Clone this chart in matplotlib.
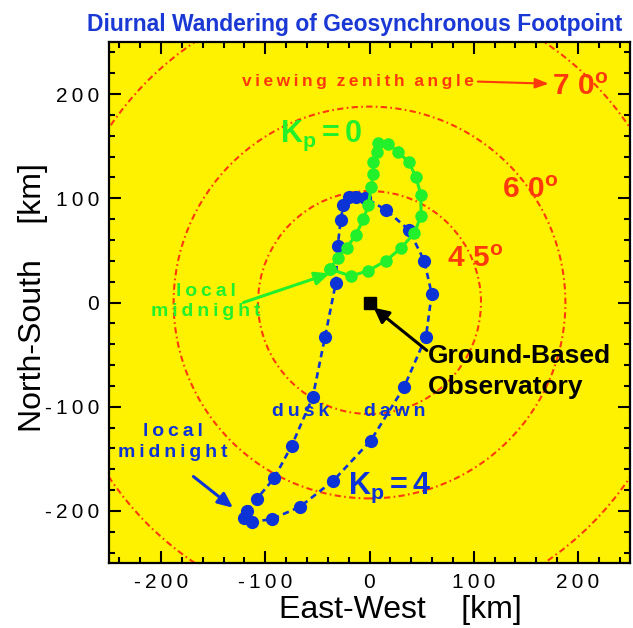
import matplotlib.pyplot as plt
from matplotlib.patches import Circle
from matplotlib.ticker import FixedLocator, MultipleLocator

plt.rcParams['font.family'] = ['Liberation Sans', 'DejaVu Sans']
plt.rcParams['mathtext.fontset'] = 'custom'
plt.rcParams['mathtext.rm'] = 'Liberation Sans:bold'
plt.rcParams['mathtext.it'] = 'Liberation Sans:bold'
plt.rcParams['mathtext.bf'] = 'Liberation Sans:bold'

YELLOW = '#fff200'
RED = '#ff3a0a'
GREEN = '#22f02a'
BLUE = '#0b33d6'
TITLE_BLUE = '#1a38d4'

# viewing zenith angle rings around the observatory (km)
zenith_deg = [45, 60, 70]
zenith_radius = [107, 188, 301]

# Kp = 0 footpoint, hourly, starting at local midnight (km)
kp0_x = [-37.9, -18.0, -1.1, 15.8, 30.2, 43.0, 49.4, 49.4, 44.6, 37.9, 27.6, 18.0,
         8.5, 6.9, 3.6, 3.6, 1.4, -1.1, -5.9, -13.2, -21.9, -30.5]
kp0_y = [32.1, 25.4, 30.5, 40.1, 52.3, 66.4, 83.3, 103.2, 120.1, 134.5, 144.4, 152.0,
         152.8, 144.7, 135.1, 123.3, 110.5, 93.6, 79.8, 64.8, 52.6, 43.0]

# Kp = 4 footpoint, hourly, starting at local midnight (km)
kp4_x = [-117.9, -108.3, -91.6, -74.7, -54.5, -42.7, -32.4, -30.5, -27.6, -25.1, -19.5,
         -13.0, -4.3, 15.8, 37.9, 52.6, 59.7, 54.2, 33.1, 1.1, -34.7, -66.7, -93.9,
         -112.5, -120.4]
kp4_y = [-199.8, -188.6, -168.7, -137.4, -91.0, -33.0, 18.4, 54.5, 79.2, 93.6, 100.9,
         101.5, 100.6, 88.8, 69.6, 39.8, 8.2, -32.8, -81.4, -132.6, -171.0, -196.0,
         -208.0, -210.4, -207.1]

ticks = [-200, -100, 0, 100, 200]


def spaced(s):
    return '\u2009'.join(s)


fig = plt.figure(figsize=(6.33, 6.28), dpi=100)
ax = fig.add_axes([109 / 633, 65 / 628, 521 / 633, 521 / 628])
ax.set_facecolor(YELLOW)
ax.set_xlim(-250, 250)
ax.set_ylim(-250, 250)

for r in zenith_radius:
    ax.add_patch(Circle((0, 0), r, fill=False, ec=RED, lw=1.5,
                        ls=(0, (3, 1.6, 0.8, 1.6)), zorder=1))

# Kp = 4 (dashed blue) and Kp = 0 (solid green)
ax.plot(kp4_x + kp4_x[:1], kp4_y + kp4_y[:1], color=BLUE, lw=1.9,
        dashes=(2.4, 1.7), zorder=2)
ax.plot(kp4_x, kp4_y, 'o', color=BLUE, ms=9.5, mec='none', zorder=3)
ax.plot(kp0_x + kp0_x[:1], kp0_y + kp0_y[:1], '-o', color=GREEN, lw=2.2,
        ms=9, mec='none', zorder=4)

# observatory
ax.plot([0], [0], 's', color='black', ms=9, zorder=5)
ax.annotate('', xy=(4, -5), xytext=(55, -46),
            arrowprops=dict(arrowstyle='-|>,head_length=0.9,head_width=0.45',
                            color='black', lw=2.2, shrinkA=0, shrinkB=0))
ax.text(56, -51, 'Ground-Based', fontsize=19, fontweight='bold', va='center')
ax.text(56, -81, 'Observatory', fontsize=19, fontweight='bold', va='center')

# zenith angle labels
ax.text(-122, 212, spaced('viewing') + '  ' + spaced('zenith') + '  ' + spaced('angle'),
        fontsize=12.5, fontweight='bold', color=RED, va='center')
ax.annotate('', xy=(172, 210), xytext=(104, 212),
            arrowprops=dict(arrowstyle='-|>,head_length=0.8,head_width=0.3',
                            color=RED, lw=1.5, shrinkA=0, shrinkB=0))
ring_label_pos = [(74, 42), (127, 108), (175, 207)]
for deg, (lx, ly) in zip(zenith_deg, ring_label_pos):
    d = str(deg)
    ax.text(lx, ly, r'$%s\ %s^{o}$' % (d[0], d[1]), fontsize=21.5,
            color=RED, va='center')

# Kp labels
ax.text(-86, 160, r'$K_p = 0$', fontsize=22, color=GREEN, va='center')
ax.text(-21, -178, r'$K_p = 4$', fontsize=22, color=BLUE, va='center')

# local midnight (Kp = 0)
ax.text(-157, 11, spaced('local'), fontsize=14, fontweight='bold', color=GREEN,
        ha='center', va='center')
ax.text(-157, -9, spaced('midnight'), fontsize=14, fontweight='bold', color=GREEN,
        ha='center', va='center')
ax.annotate('', xy=(-38, 28), xytext=(-121, 0),
            arrowprops=dict(arrowstyle='-|>,head_length=0.9,head_width=0.4',
                            color=GREEN, lw=2.2, shrinkA=0, shrinkB=0))

# local midnight (Kp = 4)
ax.text(-189, -124, spaced('local'), fontsize=14, fontweight='bold', color=BLUE,
        ha='center', va='center')
ax.text(-189, -144, spaced('midnight'), fontsize=14, fontweight='bold', color=BLUE,
        ha='center', va='center')
ax.annotate('', xy=(-131, -197), xytext=(-169, -167),
            arrowprops=dict(arrowstyle='-|>,head_length=0.9,head_width=0.4',
                            color=BLUE, lw=2.2, shrinkA=0, shrinkB=0))

ax.text(-66, -105, spaced('dusk'), fontsize=14, fontweight='bold', color=BLUE,
        ha='center', va='center')
ax.text(24, -105, spaced('dawn'), fontsize=14, fontweight='bold', color=BLUE,
        ha='center', va='center')

# axes styling
ax.xaxis.set_major_locator(FixedLocator(ticks))
ax.yaxis.set_major_locator(FixedLocator(ticks))
ax.xaxis.set_minor_locator(MultipleLocator(20))
ax.yaxis.set_minor_locator(MultipleLocator(20))
ax.set_xticklabels([spaced(str(t)) for t in ticks])
ax.set_yticklabels([spaced(str(t)) for t in ticks])
ax.tick_params(which='both', direction='in', top=True, right=True, width=1.5,
               labelsize=15, color='black')
ax.tick_params(which='major', length=8.5, pad=7)
ax.tick_params(which='minor', length=4.5)
for s in ax.spines.values():
    s.set_linewidth(1.6)

ax.set_xlabel('East-West    [km]', fontsize=23)
ax.set_ylabel('North-South    [km]', fontsize=23)
ax.xaxis.set_label_coords((400 - 109) / 521, -0.062)
ax.yaxis.set_label_coords((48 - 109) / 521, 0.51)

fig.text(355 / 633, 1 - 24 / 628, 'Diurnal Wandering of Geosynchronous Footpoint',
         fontsize=16.5, fontweight='bold', color=TITLE_BLUE, ha='center', va='center')

fig.savefig('out.png', dpi=100)
